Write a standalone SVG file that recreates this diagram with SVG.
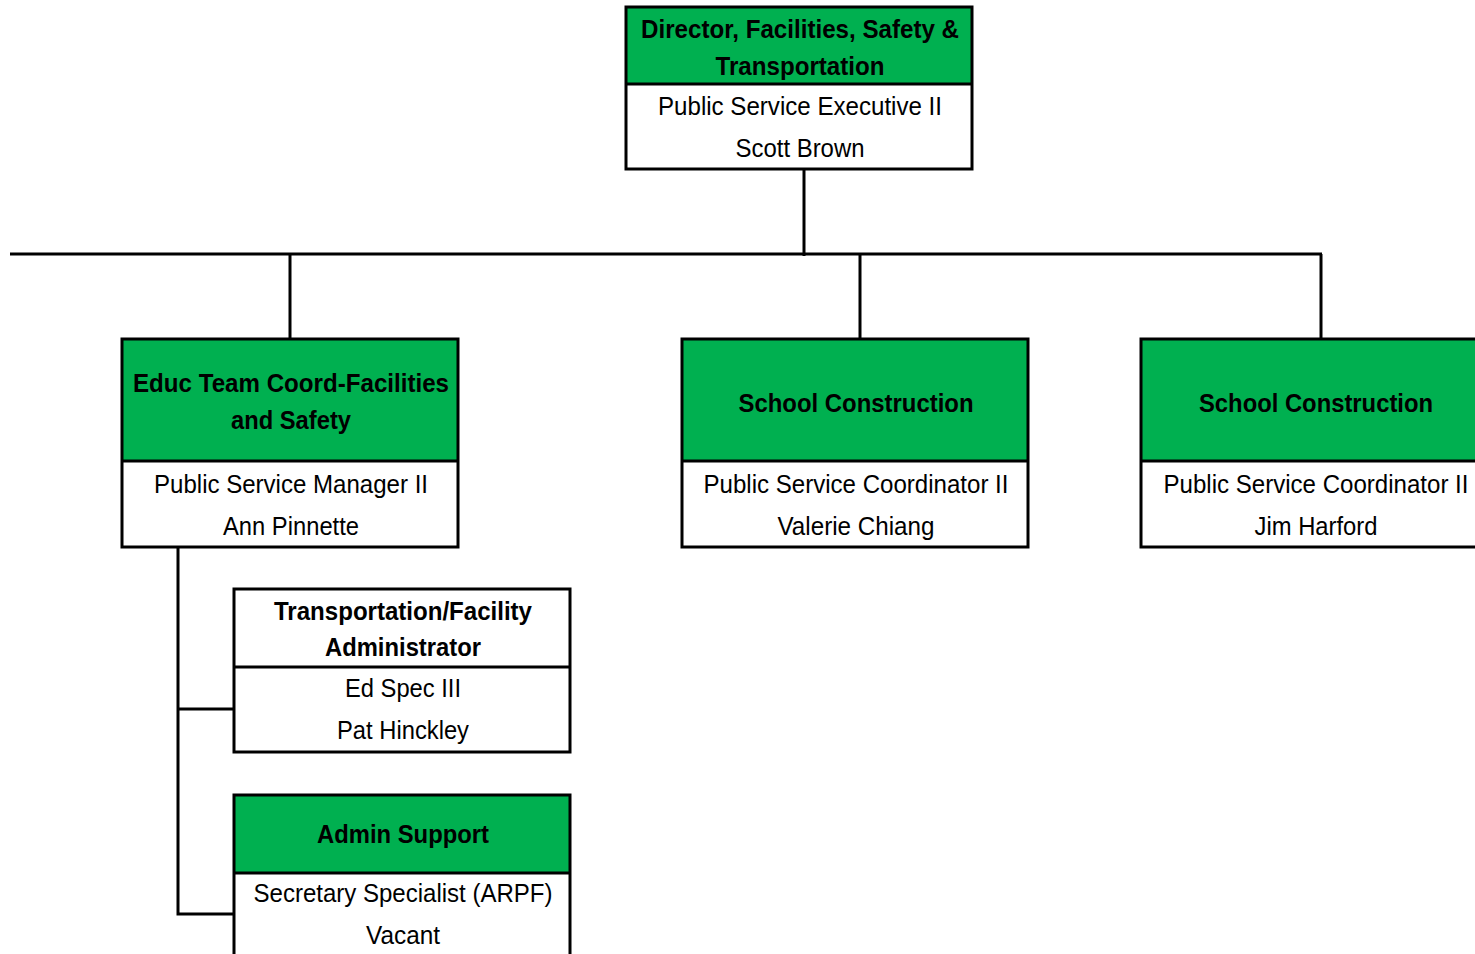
<svg xmlns="http://www.w3.org/2000/svg" width="1475" height="954" viewBox="0 0 1475 954">
<style>
.box{stroke:#000;stroke-width:3;}
.g{fill:#00B050;}
.w{fill:#fff;}
.div{stroke:#000;stroke-width:3;}
.t{font-family:"Liberation Sans",Arial,sans-serif;font-size:26px;text-anchor:middle;fill:#000;}
.b{font-weight:bold;}
.c{fill:none;stroke:#000;stroke-width:3;}
</style>
<rect width="1475" height="954" fill="#fff"/>
<g id="connectors">
<line class="c" x1="804" y1="169" x2="804" y2="256"/>
<line class="c" x1="10" y1="254" x2="1322" y2="254"/>
<line class="c" x1="290" y1="254" x2="290" y2="339"/>
<line class="c" x1="860" y1="254" x2="860" y2="339"/>
<line class="c" x1="1321" y1="254" x2="1321" y2="339"/>
<polyline class="c" points="178,547 178,914 234,914"/>
<line class="c" x1="178" y1="709" x2="234" y2="709"/>
</g>
<g id="director">
<rect class="g" x="626" y="7" width="346" height="77"/>
<rect class="w" x="626" y="84" width="346" height="85"/>
<rect class="box" x="626" y="7" width="346" height="162" fill="none"/>
<line class="div" x1="626" y1="84" x2="972" y2="84"/>
<text class="t b" x="800" y="38" textLength="318" lengthAdjust="spacingAndGlyphs">Director, Facilities, Safety &amp;</text>
<text class="t b" x="800" y="75" textLength="169" lengthAdjust="spacingAndGlyphs">Transportation</text>
<text class="t" x="800" y="115" textLength="284" lengthAdjust="spacingAndGlyphs">Public Service Executive II</text>
<text class="t" x="800" y="157" textLength="129" lengthAdjust="spacingAndGlyphs">Scott Brown</text>
</g>
<g id="educ">
<rect class="g" x="122" y="339" width="336" height="122"/>
<rect class="w" x="122" y="461" width="336" height="86"/>
<rect class="box" x="122" y="339" width="336" height="208" fill="none"/>
<line class="div" x1="122" y1="461" x2="458" y2="461"/>
<text class="t b" x="291" y="392" textLength="316" lengthAdjust="spacingAndGlyphs">Educ Team Coord-Facilities</text>
<text class="t b" x="291" y="429" textLength="120" lengthAdjust="spacingAndGlyphs">and Safety</text>
<text class="t" x="291" y="493" textLength="274" lengthAdjust="spacingAndGlyphs">Public Service Manager II</text>
<text class="t" x="291" y="535" textLength="136" lengthAdjust="spacingAndGlyphs">Ann Pinnette</text>
</g>
<g id="school1">
<rect class="g" x="682" y="339" width="346" height="122"/>
<rect class="w" x="682" y="461" width="346" height="86"/>
<rect class="box" x="682" y="339" width="346" height="208" fill="none"/>
<line class="div" x1="682" y1="461" x2="1028" y2="461"/>
<text class="t b" x="856" y="412" textLength="235" lengthAdjust="spacingAndGlyphs">School Construction</text>
<text class="t" x="856" y="493" textLength="305" lengthAdjust="spacingAndGlyphs">Public Service Coordinator II</text>
<text class="t" x="856" y="535" textLength="157" lengthAdjust="spacingAndGlyphs">Valerie Chiang</text>
</g>
<g id="school2">
<rect class="g" x="1141" y="339" width="350" height="122"/>
<rect class="w" x="1141" y="461" width="350" height="86"/>
<rect class="box" x="1141" y="339" width="350" height="208" fill="none"/>
<line class="div" x1="1141" y1="461" x2="1491" y2="461"/>
<text class="t b" x="1316" y="412" textLength="234" lengthAdjust="spacingAndGlyphs">School Construction</text>
<text class="t" x="1316" y="493" textLength="305" lengthAdjust="spacingAndGlyphs">Public Service Coordinator II</text>
<text class="t" x="1316" y="535" textLength="123" lengthAdjust="spacingAndGlyphs">Jim Harford</text>
</g>
<g id="transport">
<rect class="w" x="234" y="589" width="336" height="163"/>
<rect class="box" x="234" y="589" width="336" height="163" fill="none"/>
<line class="div" x1="234" y1="667" x2="570" y2="667"/>
<text class="t b" x="403" y="620" textLength="258" lengthAdjust="spacingAndGlyphs">Transportation/Facility</text>
<text class="t b" x="403" y="656" textLength="156" lengthAdjust="spacingAndGlyphs">Administrator</text>
<text class="t" x="403" y="697" textLength="116" lengthAdjust="spacingAndGlyphs">Ed Spec III</text>
<text class="t" x="403" y="739" textLength="132" lengthAdjust="spacingAndGlyphs">Pat Hinckley</text>
</g>
<g id="admin">
<rect class="g" x="234" y="795" width="336" height="78"/>
<rect class="w" x="234" y="873" width="336" height="100"/>
<rect class="box" x="234" y="795" width="336" height="178" fill="none"/>
<line class="div" x1="234" y1="873" x2="570" y2="873"/>
<text class="t b" x="403" y="843" textLength="172" lengthAdjust="spacingAndGlyphs">Admin Support</text>
<text class="t" x="403" y="902" textLength="299" lengthAdjust="spacingAndGlyphs">Secretary Specialist (ARPF)</text>
<text class="t" x="403" y="944" textLength="74" lengthAdjust="spacingAndGlyphs">Vacant</text>
</g>
</svg>
